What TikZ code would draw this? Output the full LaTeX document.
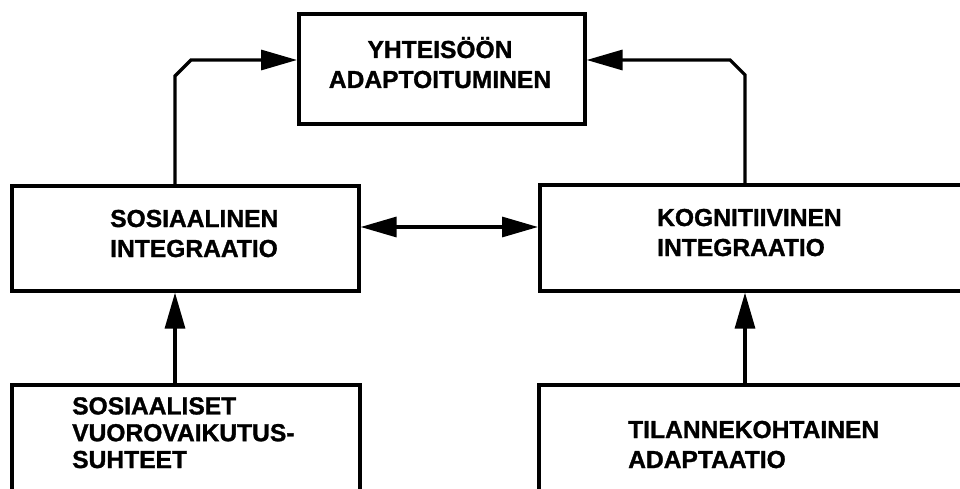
\documentclass[tikz,border=0pt]{standalone}
\usepackage{fontspec}
\setmainfont[BoldFeatures={FakeBold=1.2}]{Liberation Sans}
\usetikzlibrary{arrows.meta}
\tikzset{
  box/.style={draw=black, line width=3.6pt, rectangle, inner sep=0pt, anchor=north west},
  lbl/.style={font=\bfseries\fontsize{24.6}{30}\selectfont, inner sep=0pt, align=left, anchor=base west},
  conn/.style={draw=black, line width=3.2pt, line join=miter},
  tip/.style={-{Triangle[length=36pt,width=20pt]}},
  tips/.style={{Triangle[length=36pt,width=20pt]}-{Triangle[length=36pt,width=20pt]}}
}
\begin{document}
\begin{tikzpicture}[x=1pt,y=-1pt]
\clip (0,0) rectangle (960,489);
\fill[white] (0,0) rectangle (960,489);
% boxes
\node[box, minimum width=286pt, minimum height=110pt] (top) at (297,12) {};
\node[box, minimum width=347pt, minimum height=105pt] (leftmid) at (10,184) {};
\node[box, minimum width=440pt, minimum height=106pt] (rightmid) at (538,183) {};
\node[box, minimum width=348pt, minimum height=130pt] (leftbot) at (10,383) {};
\node[box, minimum width=440pt, minimum height=130pt] (rightbot) at (537,383) {};
% texts (anchor on the last line's baseline)
\node[lbl, align=center, anchor=base] (toptext) at (440,88) {YHTEISÖÖN\\ADAPTOITUMINEN};
\node[lbl] (leftmidtext) at (110,257) {SOSIAALINEN\\INTEGRAATIO};
\node[lbl] (rightmidtext) at (657,256) {KOGNITIIVINEN\\INTEGRAATIO};
\node[lbl, font=\bfseries\fontsize{24.6}{26.8}\selectfont] (leftbottext) at (72,468) {SOSIAALISET\\VUOROVAIKUTUS-\\SUHTEET};
\node[lbl] (rightbottext) at (628,468) {TILANNEKOHTAINEN\\ADAPTAATIO};
% connector columns
\coordinate (lc) at (175,0);
\coordinate (rc) at (745,0);
\coordinate (ty) at (0,60);
% connectors
\draw[conn, tip] (lc |- leftmid.north) -- (175,76) -- (191,60) -- (top.west |- ty);
\draw[conn, tip] (rc |- rightmid.north) -- (745,75) -- (730,60) -- (top.east |- ty);
\draw[conn, tips] (leftmid.east |- 0,227) -- (rightmid.west |- 0,227);
\draw[conn, tip] (lc |- leftbot.north) -- (lc |- leftmid.south);
\draw[conn, tip] (rc |- rightbot.north) -- (rc |- rightmid.south);
\end{tikzpicture}
\end{document}
